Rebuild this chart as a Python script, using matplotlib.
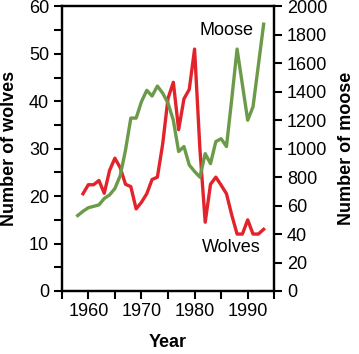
import matplotlib
matplotlib.use('Agg')
import matplotlib.pyplot as plt
import numpy as np

plt.rcParams['font.family'] = ['Liberation Sans', 'DejaVu Sans']

# wolves, 1959-1993
wolf_years = list(range(1959, 1994))
wolves = [20.5, 22.4, 22.4, 23.3, 20.6, 25.4, 28, 26, 22.5, 22, 17.3, 18.7, 20.5,
          23.5, 24, 31, 40.6, 44, 34, 40.5, 42.5, 51, 30, 14.5, 22.5, 24, 22.3,
          20.5, 16, 12, 12, 15, 12, 12, 13]

# moose, 1958-1993
moose_years = list(range(1958, 1994))
moose = [530, 560, 585, 595, 605, 650, 675, 720, 810, 990, 1215, 1215, 1330, 1410,
         1370, 1440, 1390, 1320, 1200, 980, 1015, 885, 840, 800, 965, 895, 1050,
         1070, 1015, 1350, 1700, 1450, 1200, 1295, 1585, 1875]

wolf_ticks = [0, 10, 20, 30, 40, 50, 60]
moose_ticks = [0, 200, 400, 600, 800, 1000, 1200, 1400, 1600, 1800, 2000]
moose_labels = ['0', '20', '40', '60', '800', '1000', '1200', '1400', '1600', '1800', '2000']
year_ticks = [1960, 1970, 1980, 1990]

red = '#e3232c'
green = '#6b9a48'
fs = 13

fig = plt.figure(figsize=(3.59, 3.54), dpi=100)
ax = fig.add_axes([0.172, 0.178, 0.592, 0.804])
ax2 = ax.twinx()

ax.plot(wolf_years, wolves, c=red, lw=2.4, zorder=2)
ax2.plot(moose_years, moose, c=green, lw=2.4, zorder=3)

ax.set_xlim(1955, 1995)
ax.set_ylim(0, 60)
ax2.set_ylim(0, 2000)

ax.set_xticks(np.arange(1955, 1996, 5), minor=True)
ax.set_xticks(year_ticks)
ax.set_yticks(np.arange(0, 61, 5), minor=True)
ax.set_yticks(wolf_ticks)
ax2.set_yticks(moose_ticks)
ax2.set_yticklabels(moose_labels)

for a in (ax, ax2):
    for s in a.spines.values():
        s.set_linewidth(1.6)
    a.tick_params(which='both', direction='out', width=1.5, length=6,
                  labelsize=fs, pad=3)

ax.set_xlabel('Year', fontsize=fs, fontweight='bold', labelpad=10)
ax.set_ylabel('Number of wolves', fontsize=fs, fontweight='bold', labelpad=8)
ax2.set_ylabel('Number of moose', fontsize=fs, fontweight='bold', labelpad=8)

ax.text(1986.1, 54.9, 'Moose', fontsize=fs, ha='center', va='center')
ax.text(1986.9, 9.1, 'Wolves', fontsize=fs, ha='center', va='center')

fig.savefig('out.png', dpi=100)
